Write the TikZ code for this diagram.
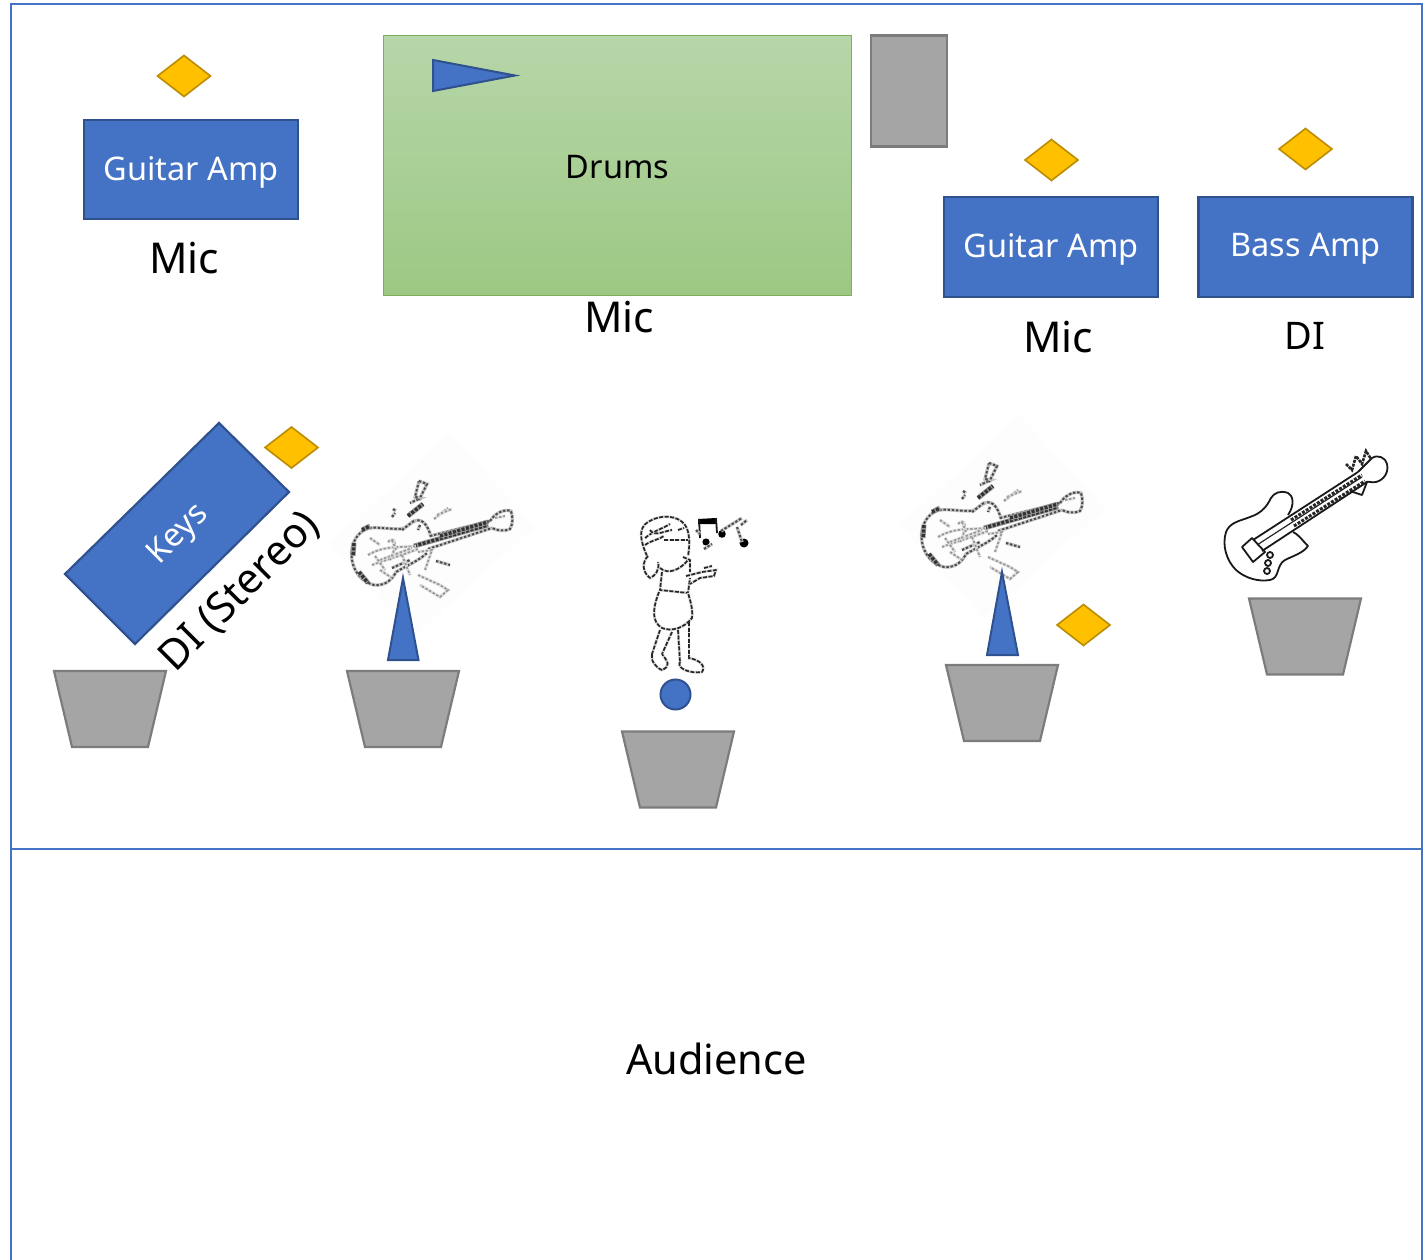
\documentclass[tikz,border=0pt]{standalone}
\usepackage{fontspec}
\setmainfont{Noto Sans}
\definecolor{bluef}{HTML}{4472C4}
\definecolor{blued}{HTML}{2F528F}
\definecolor{orf}{HTML}{FFC000}
\definecolor{ord}{HTML}{BC8C00}
\definecolor{grf}{HTML}{A5A5A5}
\definecolor{grd}{HTML}{7C7C7C}
\definecolor{grtop}{HTML}{B7D6A9}
\definecolor{grbot}{HTML}{9CC883}
\definecolor{grln}{HTML}{7FAE5F}
\tikzset{
  frameline/.style={draw=bluef,line width=1.8pt},
  bluebox/.style={draw=blued,line width=2.2pt,fill=bluef,minimum width=214pt,inner sep=0pt},
  boxtext/.style={text=white,font=\fontsize{32.5}{40}\selectfont,inner sep=0pt},
  bigtext/.style={font=\fontsize{42.5}{50}\selectfont,text=black,inner sep=0pt},
  monitor/.style={draw=grd,line width=2.2pt,fill=grf},
  bluemark/.style={draw=blued,line width=2pt,fill=bluef},
  dimond/.style={draw=ord,line width=1.6pt,fill=orf},
  sketchline/.style={preaction={draw=black!22,line width=3.4pt,solid},draw=black!70,line width=2pt,dash pattern=on 2.4pt off 1.8pt,line join=round},
  sketchthick/.style={preaction={draw=black!40,line width=5pt,solid},draw=black!80,line width=3.4pt,dash pattern=on 3pt off 1.5pt},
  sketchpale/.style={preaction={draw=black!12,line width=3pt,solid},draw=black!40,line width=1.8pt,dash pattern=on 2.4pt off 1.8pt},
  inkline/.style={draw=black!90,line width=1.8pt,line join=round},
  inkdash/.style={preaction={draw=black!15,line width=2.8pt,solid},draw=black!85,line width=1.7pt,dash pattern=on 4pt off 1.5pt,line join=round},
  pics/wedge/.style={code={\path[monitor] (-56,-38) -- (56,-38) -- (38,38) -- (-38,38) -- cycle;}},
  pics/dimondmark/.style={code={\path[dimond] (-26.5,0) -- (0,-20.5) -- (26.5,0) -- (0,20.5) -- cycle;}},
  pics/sketchguitar/.style={code={
    \path[fill=black!0.8] (450,433) -- (535,527) -- (413,637) -- (330,543) -- cycle;
    % body
    \draw[sketchline] (431,537) .. controls (428,525) and (422,518) .. (415,521) .. controls (408,524) and (406,529) .. (400,529)
      .. controls (385,529) and (375,526) .. (366,529) .. controls (354,535) and (350,548) .. (352,560)
      .. controls (354,572) and (362,582) .. (374,585) .. controls (385,586) and (392,580) .. (396,572)
      .. controls (406,566) and (420,560) .. (427,553);
    % neck
    \draw[sketchline] (430,536) -- (490,521);
    \draw[sketchline] (428,549) -- (492,528);
    \draw[sketchthick] (414,546) -- (488,525);
    \draw[sketchthick] (440,536) -- (488,522);
    \draw[sketchline] (490,521) .. controls (496,512) and (505,509) .. (511,511) .. controls (513,517) and (513,524) .. (510,529) .. controls (503,532) and (496,530) .. (492,528);
    \draw[sketchpale] (495,518) -- (505,516);
    % body inner
    \draw[sketchthick] (354,543) -- (353,556);
    \draw[sketchthick] (359,572) -- (368,583);
    \draw[sketchthick] (362,530) -- (370,526);
    \draw[sketchpale] (368,555) .. controls (385,545) and (400,548) .. (416,546);
    \draw[sketchpale] (372,565) .. controls (385,560) and (400,556) .. (418,549);
    \draw[sketchpale] (380,560) -- (412,548);
    \draw[sketchpale] (388,542) .. controls (395,535) and (398,545) .. (390,560);
    \draw[sketchpale] (370,538) -- (380,545);
    \draw[sketchpale] (392,540) -- (396,550);
    \draw[sketchpale] (380,570) -- (392,578);
    \draw[sketchpale] (375,556) -- (385,570);
    \draw[sketchline] (392,568) -- (410,560);
    \draw[sketchpale] (402,555) -- (410,575);
    \draw[sketchline] (420,525) -- (418,530);
    % sparks
    \draw[sketchline] (402,530) -- (415,520);
    \draw[sketchline] (419,481) -- (415,497) -- (421,498) -- (410,503);
    \draw[sketchline] (419,481) -- (427,484) -- (419,500);
    \draw[sketchthick] (408,516) -- (423,504);
    \draw[sketchline] (393,509) -- (396,511);
    \draw[sketchline] (392,517) -- (395,513);
    \draw[sketchpale] (434,519) -- (448,508);
    \draw[sketchpale] (437,515) -- (452,509);
    \draw[sketchline] (436,561) -- (450,565);
    \draw[sketchpale] (418,575) -- (440,585) -- (448,590) -- (440,597) -- (420,585);
    \draw[sketchpale] (425,570) -- (432,550) -- (418,552);
  }},
}
\begin{document}
\begin{tikzpicture}[x=1pt,y=-1pt]
\useasboundingbox (0,0) rectangle (1425,1260);
% stage frame
\draw[frameline] (11,1262) -- (11,4) -- (1422,4) -- (1422,1262);
\draw[frameline] (11,849) -- (1422,849);
% drums
\node[draw=grln,line width=1pt,top color=grtop,bottom color=grbot,minimum width=468pt,minimum height=260pt,inner sep=0pt] (drums) at (617.5,165.5) {};
\node[boxtext,text=black] (drumstext) at (617.5,167.5) {Drums};
\path[bluemark] (433,60) -- (515,75.5) -- (433,91) -- cycle;
\node[draw=grd,line width=2.2pt,fill=grf,minimum width=76pt,minimum height=111pt,inner sep=0pt] (kitmon) at (909,91) {};
% amps
\node[bluebox,minimum height=99pt] (ampa) at (191,169.5) {};
\node[bluebox,minimum height=100pt] (ampb) at (1051,247) {};
\node[bluebox,minimum height=100pt] (ampc) at (1305.5,247) {};
\node[boxtext] (ampatext) at (191,172) {Guitar Amp};
\node[boxtext] (ampbtext) at (1051,249) {Guitar Amp};
\node[boxtext] (ampctext) at (1305.5,249) {Bass Amp};
% labels
\node[bigtext] (mica) at (184,258) {Mic};
\node[bigtext] (micb) at (619,317) {Mic};
\node[bigtext] (micc) at (1058,337) {Mic};
\node[bigtext,font=\fontsize{38}{50}\selectfont] (di) at (1305,335.5) {DI};
\node[bigtext,font=\fontsize{41.5}{50}\selectfont] (aud) at (716.5,1059) {Audience};
% orange markers
\pic at (184,76) {dimondmark};
\pic at (1051.5,160) {dimondmark};
\pic at (1305.5,149) {dimondmark};
\pic at (291.5,447.5) {dimondmark};
\pic at (1083.5,625) {dimondmark};
% keys
\path[draw=blued,line width=2.2pt,fill=bluef] (219,423) -- (289,492) -- (135,644) -- (65,574) -- cycle;
\node[rotate=45,boxtext] (keys) at (179,535) {Keys};
\node[rotate=45,bigtext,font=\fontsize{41.5}{50}\selectfont] (stereo) at (240,592) {DI (Stereo)};
% sketched guitars
\pic at (0,0) {sketchguitar};
\pic at (570,-18) {sketchguitar};
% singer
\draw[inkdash] (647,556) .. controls (640,540) and (638,528) .. (648,522) .. controls (660,514) and (678,515) .. (685,525) .. controls (690,532) and (690,545) .. (688,556);
\draw[inkdash] (645,538) .. controls (655,530) and (660,530) .. (670,524);
\draw[inkdash] (650,530) .. controls (655,537) and (660,532) .. (672,530);
\draw[inkdash] (645,545) .. controls (652,540) and (658,540) .. (664,536);
\draw[inkdash] (664,540) -- (688,540);
\draw[inkdash] (678,530) -- (684,528);
\draw[inkdash] (648,556) .. controls (642,562) and (642,572) .. (650,578) .. controls (655,576) and (660,570) .. (658,562);
\draw[inkdash] (660,568) .. controls (668,575) and (680,570) .. (688,560);
\draw[inkdash] (683,557) -- (690,560) -- (690,572);
\draw[inkdash] (662,572) -- (660,590) -- (688,593) -- (690,578);
\draw[inkdash] (686,576) -- (702,572) -- (716,570) -- (714,576) -- (700,578) -- (690,584);
\draw[inkdash] (704,568) -- (712,566);
\draw[inkdash] (659,592) .. controls (652,610) and (652,622) .. (662,628) .. controls (672,632) and (684,628) .. (692,618) .. controls (693,608) and (690,600) .. (688,593);
\draw[inkdash] (660,630) -- (652,654);
\draw[inkdash] (672,632) -- (662,654);
\draw[inkdash] (678,630) -- (680,662);
\draw[inkdash] (689,622) -- (689,660);
\draw[inkdash] (652,654) .. controls (650,660) and (656,668) .. (662,670) .. controls (671,666) and (668,662) .. (662,654);
\draw[inkdash] (680,662) .. controls (676,668) and (690,674) .. (702,672) .. controls (706,666) and (700,660) .. (689,658);
% notes
\fill[black] (698,519) -- (716,518) -- (717,524) -- (698,524) -- cycle;
\draw[inkline] (699,519) -- (700,538);
\draw[inkline] (716,518) -- (717,533);
\fill[black] (706,542) circle (3.6pt);
\fill[black] (722,534) circle (3.8pt);
\fill[black] (744,543) circle (4.5pt);
\draw[sketchline] (721,531) -- (742,518);
\draw[sketchline] (737,527) -- (742,542);
\draw[sketchline] (741,525) -- (747,520);
\draw[sketchline] (696,530) -- (700,534);
\draw[sketchline] (704,549) -- (712,544);
% bass guitar
\draw[inkline] (1288,515) .. controls (1295,505) and (1293,495) .. (1288,493) .. controls (1280,490) and (1274,493) .. (1271,498)
  .. controls (1267,506) and (1262,513) .. (1250,517) .. controls (1240,521) and (1230,522) .. (1226,532)
  .. controls (1222,545) and (1226,560) .. (1236,570) .. controls (1245,578) and (1258,582) .. (1270,580)
  .. controls (1280,578) and (1276,565) .. (1285,560) .. controls (1295,555) and (1303,553) .. (1308,546)
  .. controls (1302,540) and (1298,534) .. (1293,532);
\draw[inkline] (1253,540) -- (1358,472);
\draw[inkline] (1262,551) -- (1367,482);
\draw[black!85,line width=1.2pt] (1257,545) -- (1362,477);
\draw[black!85,line width=3pt,dash pattern=on 3pt off 1.4pt] (1291,520) -- (1362,475);
\draw[black!85,line width=3pt,dash pattern=on 3pt off 1.4pt] (1294,526) -- (1365,481);
\draw[inkline] (1358,472) -- (1372,458) .. controls (1378,454) and (1386,458) .. (1387,464) .. controls (1389,472) and (1384,480) .. (1376,482) .. controls (1372,483) and (1368,481) .. (1366,482);
\draw[inkline] (1350,491) -- (1362,495) -- (1367,482);
\draw[inkline] (1242,547) -- (1252,538) -- (1265,552) -- (1253,562) -- cycle;
\draw[black!85,line width=2.6pt,dash pattern=on 3pt off 1pt] (1346,464) -- (1352,470) -- (1356,456) -- (1362,464) -- (1366,451) -- (1371,459);
\draw[inkline] (1270,555) circle (3pt);
\draw[inkline] (1268,563) circle (3pt);
\draw[inkline] (1267,571) circle (3pt);
% blue markers
\path[bluemark] (403,578) -- (418.5,660) -- (388,660) -- cycle;
\path[bluemark] (1002,572) -- (1018,655) -- (987,655) -- cycle;
\node[circle,draw=blued,line width=2pt,fill=bluef,minimum size=30pt,inner sep=0pt] (vox) at (675.5,694.5) {};
% monitors
\pic at (110,709) {wedge};
\pic at (403,709) {wedge};
\pic at (678,769.5) {wedge};
\pic at (1002,703) {wedge};
\pic at (1305,636.5) {wedge};
\end{tikzpicture}
\end{document}
